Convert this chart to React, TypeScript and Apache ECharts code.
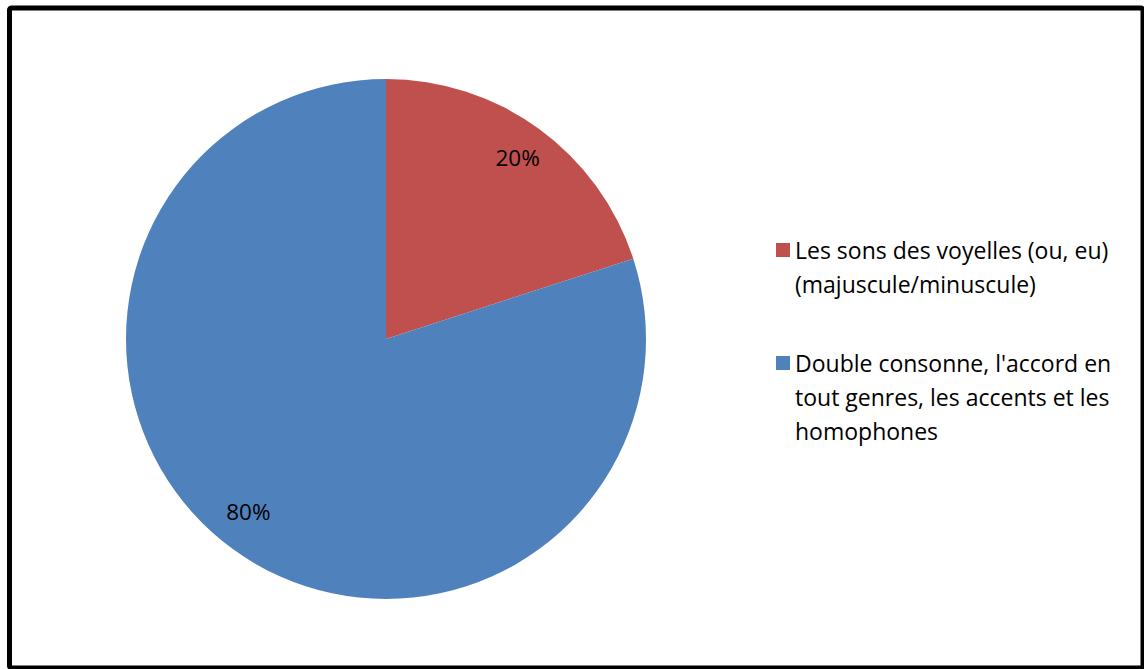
import React, { useEffect, useRef } from "react";
import * as echarts from "echarts";

const categories = [
  "Les sons des voyelles (ou, eu) (majuscule/minuscule)",
  "Double consonne, l'accord en tout genres, les accents et les homophones",
];
const legendLines = [
  ["Les sons des voyelles (ou, eu)", "(majuscule/minuscule)"],
  ["Double consonne, l'accord en", "tout genres, les accents et les", "homophones"],
];
const values = [20, 80];
const colors = ["#C0504D", "#4F81BD"];

const FONT = "'Open Sans', 'Noto Sans', sans-serif";

export default function App() {
  const ref = useRef<HTMLDivElement>(null);
  useEffect(() => {
    if (!ref.current) return;
    const chart = echarts.init(ref.current, undefined, { renderer: "svg" });
    const data = categories.map((name, i) => ({
      name,
      value: values[i],
      itemStyle: { color: colors[i] },
    }));
    const LH = 34;
    const legendTops = [199, 278];
    const legends = categories.map((name, i) => {
      const n = legendLines[i].length;
      const pad = new Array(n - 1).fill(" ");
      return {
        show: true,
        orient: "vertical",
        left: 776,
        top: legendTops[i],
        padding: 0,
        itemWidth: 14,
        itemHeight: 14,
        icon: "rect",
        selectedMode: false,
        data: [name],
        formatter: () => pad.concat(legendLines[i]).join("\n"),
        textStyle: {
          fontFamily: FONT,
          fontSize: 23,
          color: "#000",
          lineHeight: LH,
        },
      };
    });
    const labelOffsets = [[0, 0], [-6, -9]];
    chart.setOption({
      animation: false,
      backgroundColor: "#fff",
      legend: legends,
      graphic: [
        {
          type: "rect",
          shape: { x: 9.5, y: 8, width: 1133.5, height: 660, r: 2 },
          style: { fill: "none", stroke: "#000", lineWidth: 5 },
          silent: true,
          z: 100,
        },
      ],
      series: [
        {
          type: "pie",
          center: [386, 339],
          radius: [0, 260],
          startAngle: 90,
          clockwise: true,
          silent: true,
          label: { show: false },
          labelLine: { show: false },
          itemStyle: { borderWidth: 0 },
          data,
        },
        {
          type: "pie",
          center: [386, 339],
          radius: [182, 260],
          startAngle: 90,
          clockwise: true,
          silent: true,
          itemStyle: { color: "transparent", borderWidth: 0 },
          label: {
            show: true,
            position: "inside",
            formatter: "{c}%",
            fontFamily: FONT,
            fontSize: 22.5,
            color: "#000",
          },
          labelLine: { show: false },
          data: categories.map((name, i) => ({
            name,
            value: values[i],
            label: { offset: labelOffsets[i] },
          })),
        },
      ],
    });
    return () => chart.dispose();
  }, []);
  return (
    <div
      ref={ref}
      style={{ position: "fixed", left: 0, top: 0, width: 1144, height: 669 }}
    />
  );
}
